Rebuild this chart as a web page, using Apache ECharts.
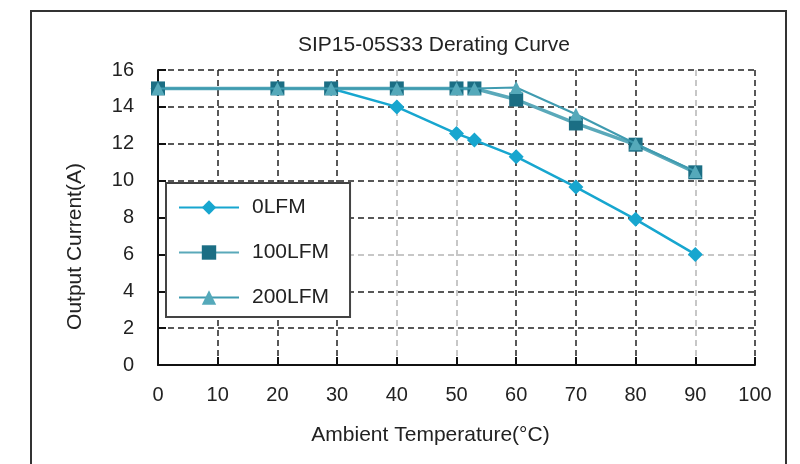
<!DOCTYPE html>
<html>
<head>
<meta charset="utf-8">
<script src="https://cdn.jsdelivr.net/npm/echarts@6/dist/echarts.min.js"></script>
<style>html,body{margin:0;padding:0;background:#fff}#c{width:800px;height:464px}</style>
</head>
<body>
<div id="c"></div>
<script>
const titleText = 'SIP15-05S33 Derating Curve';
const xName = 'Ambient Temperature(°C)';
const yName = 'Output Current(A)';
const seriesNames = ['0LFM', '100LFM', '200LFM'];
const temps0 = [0, 20, 29, 40, 50, 53, 60, 70, 80, 90];
const current0 = [15, 15, 15, 14, 12.55, 12.2, 11.3, 9.65, 7.9, 6.0];
const temps100 = [0, 20, 29, 40, 50, 53, 60, 70, 80, 90];
const current100 = [15, 15, 15, 15, 15, 15, 14.4, 13.1, 11.95, 10.45];
const temps200 = [0, 20, 29, 40, 50, 53, 60, 70, 80, 90];
const current200 = [15, 15, 15, 15, 15, 15, 15.05, 13.6, 12.0, 10.5];

const pairs = (xs, ys) => xs.map((x, i) => [x, ys[i]]);
const xGridColors = ['#222', '#222', '#222', '#222', '#b5b5b5', '#b5b5b5', '#222', '#222', '#222', '#b5b5b5', '#222'];
const yGridColors = ['#222', '#222', '#222', '#b5b5b5', '#222', '#222', '#222', '#222', '#222'];
const font = 'Liberation Sans, Arial, sans-serif';

const chart = echarts.init(document.getElementById('c'), null, {renderer: 'canvas'});
chart.setOption({
  animation: false,
  backgroundColor: '#fff',
  title: {
    text: titleText, left: 429, top: 30, textAlign: 'center',
    textStyle: {fontFamily: font, fontSize: 21, fontWeight: 'normal', color: '#222'}
  },
  graphic: [{
    type: 'rect', shape: {x: 31, y: 11, width: 755, height: 480},
    style: {fill: null, stroke: '#333', lineWidth: 2}, silent: true, z: -1
  }],
  grid: {left: 158, right: 45, top: 70, bottom: 99},
  legend: {
    data: seriesNames, orient: 'vertical', left: 166, top: 183,
    padding: [14, 21, 9, 12], itemGap: 24, itemWidth: 60, itemHeight: 18,
    backgroundColor: '#fff', borderColor: '#444', borderWidth: 2,
    textStyle: {fontFamily: font, fontSize: 21, color: '#222', padding: [0, 0, 0, 8]},
    z: 10
  },
  xAxis: {
    type: 'value', min: 0, max: 100, interval: 10,
    name: xName, nameLocation: 'middle', nameGap: 60,
    nameTextStyle: {fontFamily: font, fontSize: 21, color: '#222', padding: [0, 52, 0, 0]},
    axisLine: {lineStyle: {color: '#111', width: 2}},
    axisTick: {inside: true, length: 8, lineStyle: {color: '#111', width: 2}},
    axisLabel: {fontFamily: font, fontSize: 20, color: '#222', margin: 20},
    splitLine: {show: true, lineStyle: {color: xGridColors, type: [6, 4], width: 1.5}}
  },
  yAxis: {
    type: 'value', min: 0, max: 16, interval: 2,
    name: yName, nameLocation: 'middle', nameGap: 72,
    nameTextStyle: {fontFamily: font, fontSize: 21, color: '#222', padding: [0, 58, 0, 0]},
    axisLine: {show: true, lineStyle: {color: '#111', width: 2}},
    axisTick: {show: true, inside: true, length: 8, lineStyle: {color: '#111', width: 2}},
    axisLabel: {fontFamily: font, fontSize: 20, color: '#222', margin: 24},
    splitLine: {show: true, lineStyle: {color: yGridColors, type: [6, 4], width: 1.5}}
  },
  series: [
    {
      name: seriesNames[0], type: 'line', data: pairs(temps0, current0),
      symbol: 'diamond', symbolSize: 15,
      itemStyle: {color: '#17a6cf'}, lineStyle: {color: '#17a6cf', width: 2.5}, z: 3
    },
    {
      name: seriesNames[1], type: 'line', data: pairs(temps100, current100),
      symbol: 'rect', symbolSize: 14,
      itemStyle: {color: '#1b6e84'}, lineStyle: {color: '#5aa9ba', width: 3.5}, z: 4
    },
    {
      name: seriesNames[2], type: 'line', data: pairs(temps200, current200),
      symbol: 'triangle', symbolSize: 13,
      itemStyle: {color: '#55a9ba'}, lineStyle: {color: '#3f9bb0', width: 2}, z: 5
    }
  ]
});
</script>
</body>
</html>
